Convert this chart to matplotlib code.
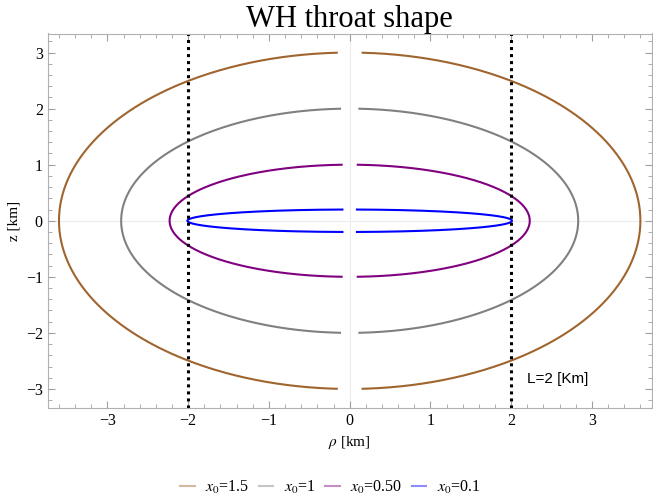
import numpy as np
import matplotlib
matplotlib.use("Agg")
import matplotlib.pyplot as plt
from matplotlib.ticker import MultipleLocator

plt.rcParams["font.family"] = ["Liberation Serif", "DejaVu Serif"]
plt.rcParams["mathtext.fontset"] = "stix"

# 데이터
x0_labels = ["1.5", "1", "0.50", "0.1"]
z_max = [3.0, 2.0, 1.0, 0.2]          # 각 곡선의 z 최대값
rho_max = [3.60, 2.83, 2.23, 2.01]    # 각 곡선의 rho 최대값
rho_gap = [0.16, 0.12, 0.10, 0.09]    # rho=0 근처의 빈 구간 절반 폭
colors = ["#a0652e", "#808080", "#800080", "#0000ff"]
L = 2.0

fig = plt.figure(figsize=(6.53, 5.0), dpi=100)
ax = fig.add_axes([0.073, 0.184, 0.925, 0.749])

# 중심 축선
ax.axhline(0, color="#ececec", linewidth=0.8, zorder=0)
ax.axvline(0, color="#ececec", linewidth=0.8, zorder=0)

for lab, b, a, g, c in zip(x0_labels, z_max, rho_max, rho_gap, colors):
    t0 = np.arcsin(g / a)
    t = np.linspace(t0, np.pi - t0, 400)
    for s in (1, -1):
        rho = s * a * np.sin(t)
        z = b * np.cos(t)
        ax.plot(rho, z, color=c, linewidth=1.5,
                label=f"$x_0$=" + lab if s == 1 else None)

# 목 위치 L
ax.axvline(-L, color="black", linestyle=(0, (1, 1.3)), linewidth=2.2)
ax.axvline(L, color="black", linestyle=(0, (1, 1.3)), linewidth=2.2)
ax.text(2.2, -2.82, "L=2 [Km]", fontsize=11, family=["Liberation Sans", "DejaVu Sans"],
        va="center", ha="left")

ax.set_xlim(-3.74, 3.74)
ax.set_ylim(-3.34, 3.34)
ax.xaxis.set_major_locator(MultipleLocator(1))
ax.xaxis.set_minor_locator(MultipleLocator(0.2))
ax.yaxis.set_major_locator(MultipleLocator(1))
ax.yaxis.set_minor_locator(MultipleLocator(0.2))
ax.tick_params(which="both", direction="in", top=True, right=True,
               color="#a0a0a0", labelsize=11.5)
ax.tick_params(which="major", length=5, width=0.8)
ax.tick_params(which="minor", length=3, width=0.6)
for sp in ax.spines.values():
    sp.set_color("#b0b0b0")
    sp.set_linewidth(0.8)

ax.set_xlabel(r"$\rho$ [km]", fontsize=11, labelpad=4)
ax.set_ylabel("z [km]", fontsize=11, labelpad=4)
ax.set_title("WH throat shape", fontsize=22, pad=3)

leg = fig.legend(loc="center", bbox_to_anchor=(0.506, 0.026), ncol=4,
                 frameon=False, fontsize=11.5, handlelength=0.9,
                 columnspacing=0.6, handletextpad=0.65)
for h in leg.get_lines():
    h.set_alpha(0.45)
    h.set_linewidth(1.5)

fig.savefig("out.png", dpi=100)
